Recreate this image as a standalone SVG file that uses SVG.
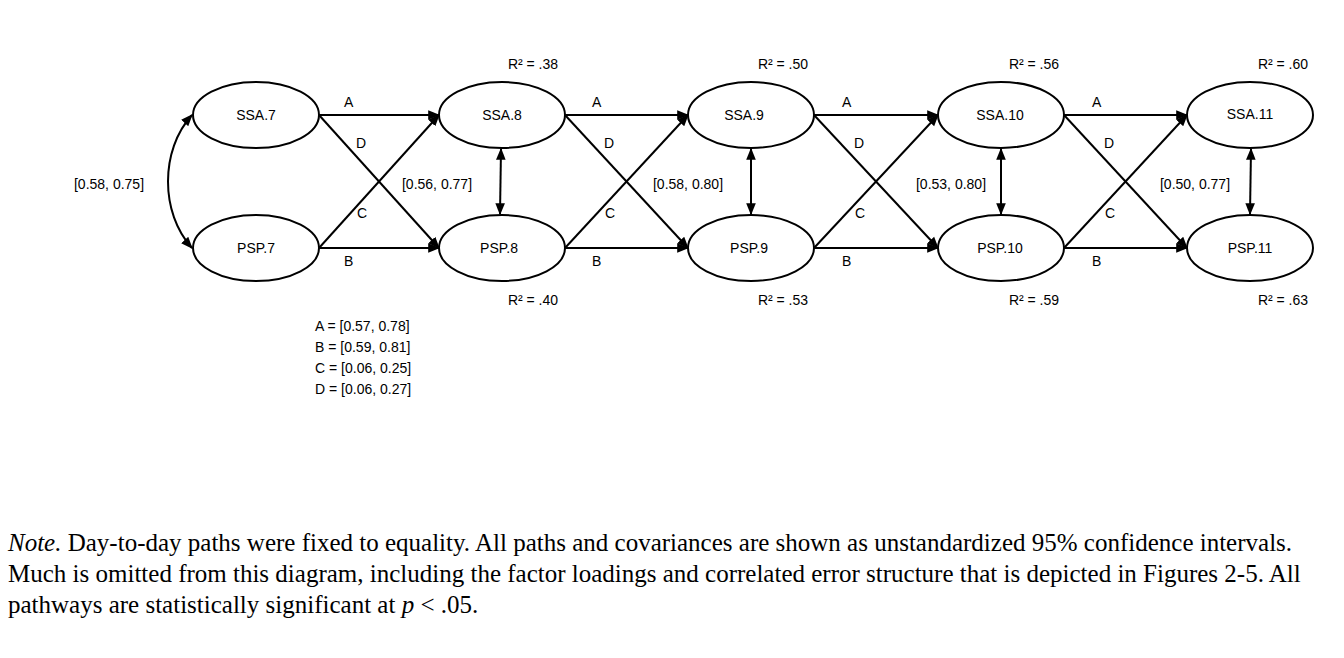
<svg xmlns="http://www.w3.org/2000/svg" width="1344" height="658" viewBox="0 0 1344 658">
<style>
.n{fill:#fff;stroke:#000;stroke-width:2}
.t{font-family:"Liberation Sans",sans-serif;font-size:14px;fill:#000}
.m{text-anchor:middle}
.c line,.c path{stroke:#000;stroke-width:2;fill:none}
.note{font-family:"Liberation Serif",serif;font-size:25px;fill:#000}
</style>
<defs>
<marker id="a" viewBox="0 0 10 10" refX="9" refY="5" markerWidth="6" markerHeight="6" orient="auto-start-reverse"><path d="M0,1 L10,5 L0,9 z" fill="#000"/></marker>
</defs>
<rect width="1344" height="658" fill="#fff"/>
<g class="c">
<path d="M192,115 C160,150 160,213 192,248" marker-start="url(#a)" marker-end="url(#a)"/>
<line x1="319" y1="115" x2="439" y2="115" marker-end="url(#a)"/>
<line x1="319" y1="248" x2="439" y2="248" marker-end="url(#a)"/>
<line x1="319" y1="115" x2="439" y2="248" marker-end="url(#a)"/>
<line x1="319" y1="248" x2="439" y2="115" marker-end="url(#a)"/>
<line x1="565" y1="115" x2="688" y2="115" marker-end="url(#a)"/>
<line x1="565" y1="248" x2="688" y2="248" marker-end="url(#a)"/>
<line x1="565" y1="115" x2="688" y2="248" marker-end="url(#a)"/>
<line x1="565" y1="248" x2="688" y2="115" marker-end="url(#a)"/>
<line x1="814" y1="115" x2="938" y2="115" marker-end="url(#a)"/>
<line x1="814" y1="248" x2="938" y2="248" marker-end="url(#a)"/>
<line x1="814" y1="115" x2="938" y2="248" marker-end="url(#a)"/>
<line x1="814" y1="248" x2="938" y2="115" marker-end="url(#a)"/>
<line x1="1064" y1="115" x2="1187" y2="115" marker-end="url(#a)"/>
<line x1="1064" y1="248" x2="1187" y2="248" marker-end="url(#a)"/>
<line x1="1064" y1="115" x2="1187" y2="248" marker-end="url(#a)"/>
<line x1="1064" y1="248" x2="1187" y2="115" marker-end="url(#a)"/>
<line x1="501" y1="149" x2="500" y2="214" marker-start="url(#a)" marker-end="url(#a)"/>
<line x1="751" y1="149" x2="751" y2="214" marker-start="url(#a)" marker-end="url(#a)"/>
<line x1="1001" y1="149" x2="1001" y2="214" marker-start="url(#a)" marker-end="url(#a)"/>
<line x1="1251" y1="149" x2="1250" y2="214" marker-start="url(#a)" marker-end="url(#a)"/>
</g>
<g id="ssa7"><ellipse class="n" cx="256" cy="115" rx="63" ry="33"/><text class="t m" x="256" y="120">SSA.7</text></g>
<g id="psp7"><ellipse class="n" cx="256" cy="248" rx="63" ry="33"/><text class="t m" x="256" y="253">PSP.7</text></g>
<g id="ssa8"><ellipse class="n" cx="502" cy="115" rx="63" ry="33"/><text class="t m" x="502" y="120">SSA.8</text></g>
<g id="psp8"><ellipse class="n" cx="502" cy="248" rx="63" ry="33"/><text class="t m" x="499" y="253">PSP.8</text></g>
<g id="ssa9"><ellipse class="n" cx="751" cy="115" rx="63" ry="33"/><text class="t m" x="744" y="120">SSA.9</text></g>
<g id="psp9"><ellipse class="n" cx="751" cy="248" rx="63" ry="33"/><text class="t m" x="749" y="253">PSP.9</text></g>
<g id="ssa10"><ellipse class="n" cx="1001" cy="115" rx="63" ry="33"/><text class="t m" x="1000" y="120">SSA.10</text></g>
<g id="psp10"><ellipse class="n" cx="1001" cy="248" rx="63" ry="33"/><text class="t m" x="1000" y="253">PSP.10</text></g>
<g id="ssa11"><ellipse class="n" cx="1250" cy="115" rx="63" ry="33"/><text class="t m" x="1250" y="119">SSA.11</text></g>
<g id="psp11"><ellipse class="n" cx="1250" cy="248" rx="63" ry="33"/><text class="t m" x="1250" y="253">PSP.11</text></g>
<g id="labels" class="t">
<text x="109" y="189" class="m">[0.58, 0.75]</text>
<text x="437" y="189" class="m">[0.56, 0.77]</text>
<text x="688" y="189" class="m">[0.58, 0.80]</text>
<text x="951" y="189" class="m">[0.53, 0.80]</text>
<text x="1195" y="189" class="m">[0.50, 0.77]</text>
<text x="344" y="107">A</text><text x="356" y="148">D</text><text x="357" y="218">C</text><text x="344" y="266">B</text>
<text x="592" y="107">A</text><text x="604" y="148">D</text><text x="605" y="218">C</text><text x="592" y="266">B</text>
<text x="842" y="107">A</text><text x="854" y="148">D</text><text x="855" y="218">C</text><text x="842" y="266">B</text>
<text x="1092" y="107">A</text><text x="1104" y="148">D</text><text x="1105" y="218">C</text><text x="1092" y="266">B</text>
<text x="533" y="69" class="m">R² = .38</text>
<text x="783" y="69" class="m">R² = .50</text>
<text x="1034" y="69" class="m">R² = .56</text>
<text x="1283" y="69" class="m">R² = .60</text>
<text x="533" y="305" class="m">R² = .40</text>
<text x="783" y="305" class="m">R² = .53</text>
<text x="1034" y="305" class="m">R² = .59</text>
<text x="1283" y="305" class="m">R² = .63</text>
<text x="315" y="331">A = [0.57, 0.78]</text>
<text x="315" y="352">B = [0.59, 0.81]</text>
<text x="315" y="373">C = [0.06, 0.25]</text>
<text x="315" y="394">D = [0.06, 0.27]</text>
</g>
<g id="note" class="note">
<text x="8" y="551"><tspan font-style="italic">Note.</tspan> Day-to-day paths were fixed to equality. All paths and covariances are shown as unstandardized 95% confidence intervals.</text>
<text x="8" y="582">Much is omitted from this diagram, including the factor loadings and correlated error structure that is depicted in Figures 2-5.  All</text>
<text x="8" y="613">pathways are statistically significant at <tspan font-style="italic">p</tspan> &lt; .05.</text>
</g>
</svg>
